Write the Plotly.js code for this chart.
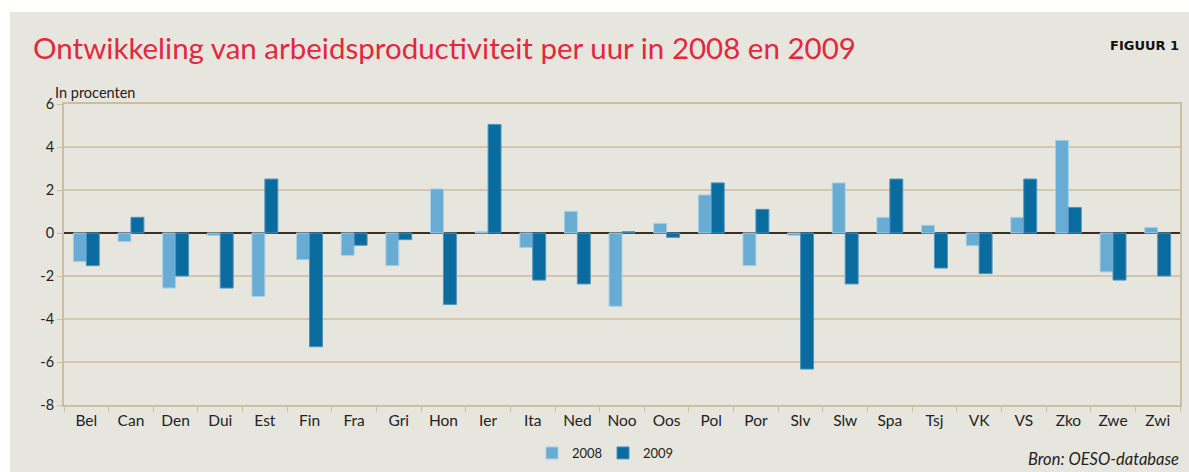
<!DOCTYPE html>
<html>
<head>
<meta charset="utf-8">
<script src="https://cdn.plot.ly/plotly-3.0.1.min.js"></script>
<style>
html,body{margin:0;padding:0;background:#ffffff;width:1189px;height:472px;overflow:hidden;}
#chart{position:absolute;left:10px;top:12px;width:1179px;height:460px;}
</style>
</head>
<body>
<div id="chart"></div>
<script>
const categories = ["Bel","Can","Den","Dui","Est","Fin","Fra","Gri","Hon","Ier","Ita","Ned","Noo","Oos","Pol","Por","Slv","Slw","Spa","Tsj","VK","VS","Zko","Zwe","Zwi"];
const values2008 = [-1.33,-0.40,-2.56,-0.12,-2.95,-1.24,-1.05,-1.52,2.05,0.06,-0.68,1.01,-3.41,0.45,1.77,-1.52,-0.12,2.33,0.73,0.36,-0.59,0.73,4.31,-1.81,0.26];
const values2009 = [-1.52,0.73,-2.00,-2.56,2.51,-5.29,-0.57,-0.31,-3.32,5.05,-2.19,-2.37,0.06,-0.20,2.33,1.10,-6.33,-2.37,2.51,-1.63,-1.89,2.51,1.19,-2.19,-2.00];
const seriesNames = ["2008","2009"];
const yTicks = [-8,-6,-4,-2,0,2,4,6];

const FONT = "Lato, 'Open Sans', sans-serif";
const TAN = "#cbbd9f";

const traces = [
  {type:"bar", name:seriesNames[0], x:categories, y:values2008,
   marker:{color:"#68acd3", line:{color:"#a9d0e6", width:1}}},
  {type:"bar", name:seriesNames[1], x:categories, y:values2009,
   marker:{color:"#0a6c9e", line:{color:"#4f93bd", width:1}}}
];

const layout = {
  width:1179, height:460,
  paper_bgcolor:"#e7e6de", plot_bgcolor:"#e7e6de",
  margin:{l:54, r:9, t:92, b:67, autoexpand:false},
  barmode:"group", bargap:0.42, bargroupgap:0,
  font:{family:FONT, color:"#222222", size:14},
  title:{text:"Ontwikkeling van arbeidsproductiviteit per uur in 2008 en 2009",
    font:{family:FONT, size:29.5, color:"#e3283b"},
    xref:"container", x:23/1179, xanchor:"left",
    yref:"container", y:1-37/460, yanchor:"middle"},
  xaxis:{type:"category", showline:true, linecolor:TAN, linewidth:2, mirror:true,
    ticks:"outside", tickson:"boundaries", ticklen:5, tickcolor:TAN, tickwidth:1,
    tickfont:{family:FONT, size:15.5, color:"#222222"}, showgrid:false, zeroline:false, fixedrange:true},
  yaxis:{range:[-8,6], tickvals:yTicks, ticktext:yTicks.map(String),
    showline:true, linecolor:TAN, linewidth:2, mirror:true,
    ticks:"outside", ticklen:5, tickcolor:TAN, tickwidth:1,
    showgrid:true, gridcolor:"#d2c7ad", gridwidth:1.5,
    zeroline:true, zerolinecolor:"#3b2e22", zerolinewidth:1.5,
    tickfont:{family:FONT, size:14.5, color:"#222222"}, fixedrange:true},
  legend:{orientation:"h", xref:"container", x:593/1179, xanchor:"center",
    yref:"container", y:1-441/460, yanchor:"middle",
    font:{family:FONT, size:13, color:"#222222"}, bgcolor:"rgba(0,0,0,0)",
    itemwidth:30, entrywidth:26, entrywidthmode:"pixels", tracegroupgap:0},
  showlegend:true,
  annotations:[
    {text:"In procenten", xref:"paper", yref:"paper", x:-0.0095, y:1.037, xanchor:"left", yanchor:"middle",
     showarrow:false, font:{family:FONT, size:14.5, color:"#222222"}},
    {text:"<b>FIGUUR 1</b>", xref:"paper", yref:"paper", x:1.001, y:1.193, xanchor:"right", yanchor:"middle",
     showarrow:false, font:{family:"'DejaVu Sans', sans-serif", size:13, color:"#111111"}},
    {text:"<i>Bron: OESO-database</i>", xref:"paper", yref:"paper", x:1.001, y:-0.18, xanchor:"right", yanchor:"middle",
     showarrow:false, font:{family:FONT, size:16.5, color:"#222222"}}
  ]
};

Plotly.newPlot("chart", traces, layout, {displayModeBar:false, staticPlot:true});
</script>
</body>
</html>
